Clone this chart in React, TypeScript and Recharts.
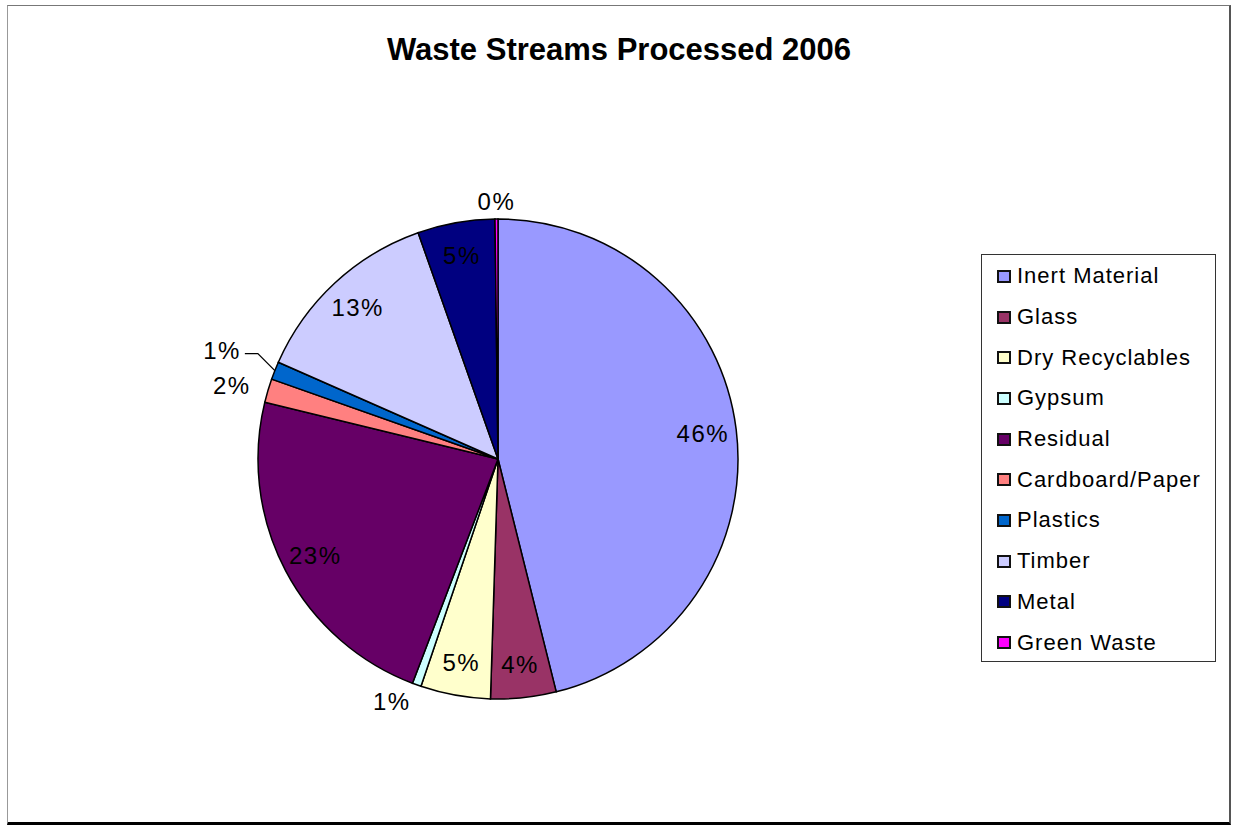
import { Cell, Legend, Pie, PieChart } from 'recharts';

// Waste stream shares (percent), clockwise from 12 o'clock.
const streams = ['Inert Material', 'Glass', 'Dry Recyclables', 'Gypsum', 'Residual', 'Cardboard/Paper', 'Plastics', 'Timber', 'Metal', 'Green Waste'];
const shares = [46.1, 4.4, 4.7, 0.6, 23.0, 1.6, 1.2, 13.0, 5.2, 0.2];
const colors = ['#9999FF', '#993366', '#FFFFCC', '#CCFFFF', '#660066', '#FF8080', '#0066CC', '#CCCCFF', '#000080', '#FF00FF'];

const data = streams.map((name, i) => ({ name, value: shares[i] }));

const FONT = '"Liberation Sans", Arial, sans-serif';
const RAD = Math.PI / 180;

// small slices get outside labels; crowded ones are pushed out with a leader line
const total = shares.reduce((a, b) => a + b, 0);
const mids: number[] = [];
let acc = 0;
shares.forEach((v) => {
  mids.push(((acc + v / 2) / total) * 360);
  acc += v;
});
const isSmall = shares.map((v) => v / total < 0.03);
const bumped = shares.map((_, i) => i > 0 && isSmall[i] && isSmall[i - 1] && mids[i] - mids[i - 1] < 6);

function renderLabel(props: any) {
  const { cx, cy, midAngle, outerRadius, percent, index } = props;
  const text = `${Math.round(percent * 100)}%`;
  const cos = Math.cos(-midAngle * RAD);
  const sin = Math.sin(-midAngle * RAD);
  const style = { fontFamily: FONT, fontSize: 24, letterSpacing: 1.5, fill: '#000' };
  if (!isSmall[index]) {
    const r = outerRadius * 0.86;
    return (
      <text x={cx + r * cos} y={cy + r * sin} textAnchor="middle" dominantBaseline="central" style={style}>
        {text}
      </text>
    );
  }
  const anchor = cos < -0.3 ? 'end' : cos > 0.3 ? 'start' : 'middle';
  if (bumped[index]) {
    const ex = cx + outerRadius * cos;
    const ey = cy + outerRadius * sin;
    const side = cos < 0 ? -1 : 1;
    const px = ex + side * 17;
    const py = ey - 17;
    const hx = px + side * 13;
    return (
      <g>
        <polyline points={`${ex},${ey} ${px},${py} ${hx},${py}`} fill="none" stroke="#000" strokeWidth={1.3} />
        <text x={hx + side * 4} y={py - 3} textAnchor={side < 0 ? 'end' : 'start'} dominantBaseline="central" style={style}>
          {text}
        </text>
      </g>
    );
  }
  const r = outerRadius + 18;
  return (
    <text x={cx + r * cos} y={cy + r * sin} textAnchor={anchor} dominantBaseline="central" style={style}>
      {text}
    </text>
  );
}

function LegendBox({ payload }: any) {
  const items = [...(payload || [])].sort((a: any, b: any) => streams.indexOf(a.value) - streams.indexOf(b.value));
  return (
    <div
      style={{
        border: '1px solid #333',
        background: '#fff',
        width: 235,
        height: 408,
        boxSizing: 'border-box',
        padding: '1px 0 0 15px',
        fontFamily: FONT,
        fontSize: 22,
        letterSpacing: 1,
        color: '#000',
      }}
    >
      {items.map((p: any) => (
        <div key={p.value} style={{ display: 'flex', alignItems: 'center', height: 40.7 }}>
          <span style={{ width: 10, height: 9, background: p.color, border: '2px solid #111', marginRight: 6, flexShrink: 0 }} />
          <span style={{ whiteSpace: 'nowrap' }}>{p.value}</span>
        </div>
      ))}
    </div>
  );
}

export default function App() {
  return (
    <div style={{ position: 'absolute', left: 0, top: 0, width: 1235, height: 826, background: '#fff' }}>
      <div
        style={{
          position: 'absolute',
          left: 7,
          top: 5,
          width: 1221,
          height: 816,
          borderTop: '1px solid #777',
          borderLeft: '1px solid #999',
          borderRight: '2px solid #555',
          borderBottom: '3px solid #000',
        }}
      />
      <div
        style={{
          position: 'absolute',
          left: 0,
          width: 1238,
          top: 32,
          textAlign: 'center',
          fontFamily: FONT,
          fontSize: 31,
          fontWeight: 'bold',
          color: '#000',
        }}
      >
        Waste Streams Processed 2006
      </div>
      <PieChart
        width={1235}
        height={826}
        margin={{ top: 0, right: 0, bottom: 0, left: 0 }}
        style={{ position: 'absolute', left: 0, top: 0 }}
      >
        <Pie
          data={data}
          dataKey="value"
          nameKey="name"
          cx={498}
          cy={459}
          outerRadius={240}
          startAngle={90}
          endAngle={-270}
          stroke="#000"
          strokeWidth={1.5}
          label={renderLabel}
          labelLine={false}
          isAnimationActive={false}
        >
          {data.map((d, i) => (
            <Cell key={d.name} fill={colors[i]} />
          ))}
        </Pie>
        <Legend
          layout="vertical"
          align="right"
          verticalAlign="top"
          content={<LegendBox />}
          wrapperStyle={{ left: 981, top: 254, width: 235, right: 'auto', bottom: 'auto' }}
        />
      </PieChart>
    </div>
  );
}
